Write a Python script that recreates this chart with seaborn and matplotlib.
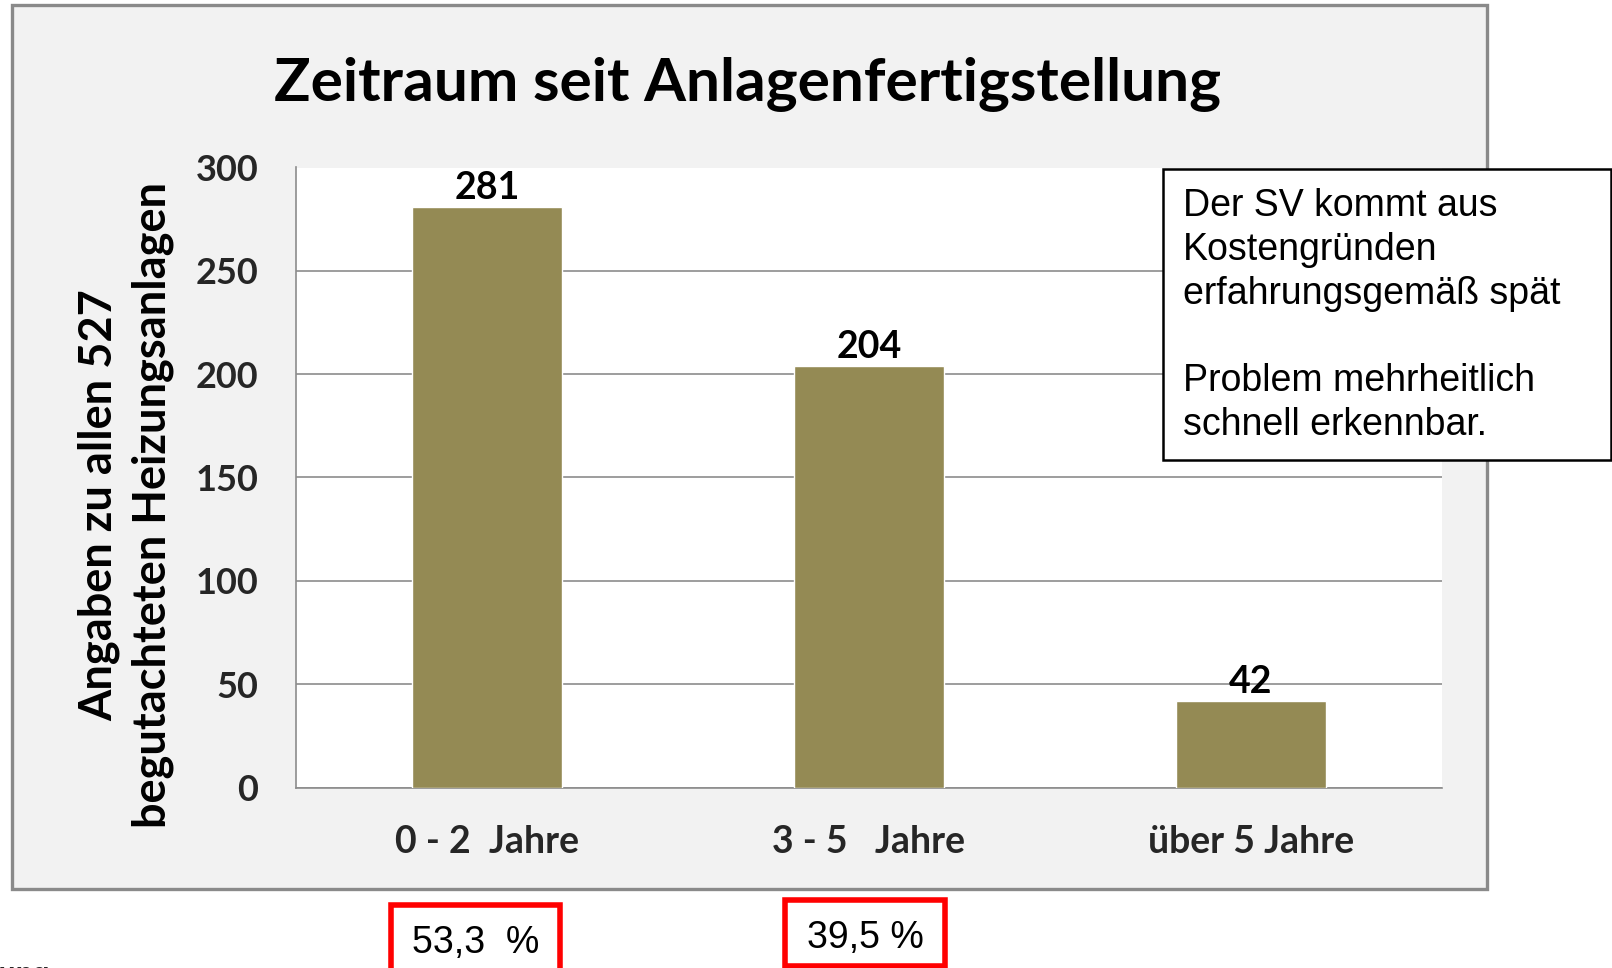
import matplotlib
matplotlib.use("Agg")
import matplotlib.pyplot as plt
from matplotlib.patches import Rectangle
import seaborn as sns
import pandas as pd

# Daten aus dem Diagramm
kategorien = ["0 - 2  Jahre", "3 - 5   Jahre", "über 5 Jahre"]
anzahl = [281, 204, 42]
prozent_labels = ["53,3  %", "39,5 %"]
titel = "Zeitraum seit Anlagenfertigstellung"
y_label = "Angaben zu allen 527\nbegutachteten Heizungsanlagen"
hinweis = "Der SV kommt aus\nKostengründen\nerfahrungsgemäß spät\n\nProblem mehrheitlich\nschnell erkennbar."
y_ticks = [0, 50, 100, 150, 200, 250, 300]

W, H = 1612, 968
BAR_COLOR = "#948A54"
FRAME_BG = "#F2F2F2"
FRAME_EDGE = "#8A8A8A"
GRID = "#8C8C8C"

sns.set_theme(style="white")
plt.rcParams["font.family"] = ["Lato", "DejaVu Sans"]


def px(x, y):
    # Pixelkoordinaten (von oben links) -> Figure-Koordinaten
    return x / W, 1 - y / H


fig = plt.figure(figsize=(W / 100, H / 100), dpi=100)
fig.patch.set_facecolor("white")

# grauer Diagrammrahmen
x0, y0 = px(12, 889)
fig.add_artist(Rectangle((x0, y0), (1487 - 12) / W, (889 - 5) / H,
                         transform=fig.transFigure, facecolor=FRAME_BG,
                         edgecolor=FRAME_EDGE, linewidth=2.4, zorder=0))

# Plotbereich
ax_l, ax_b = px(296, 787.5)
ax = fig.add_axes([ax_l, ax_b, (1442 - 296) / W, (787.5 - 167.5) / H])
ax.set_facecolor("white")

df = pd.DataFrame({"kategorie": kategorien, "anzahl": anzahl})
sns.barplot(data=df, x="kategorie", y="anzahl", color=BAR_COLOR,
            saturation=1, width=0.395, ax=ax, zorder=3)

ax.set_ylim(0, 300)
ax.set_xlim(-0.5, 2.5)
ax.set_yticks(y_ticks)
ax.yaxis.grid(True, color=GRID, linewidth=1.2, zorder=0)
ax.set_axisbelow(True)
for side in ["top", "right"]:
    ax.spines[side].set_visible(False)
for side in ["left", "bottom"]:
    ax.spines[side].set_color(GRID)
    ax.spines[side].set_linewidth(1.2)

ax.tick_params(axis="y", length=0, pad=27, labelsize=26)
ax.tick_params(axis="x", length=0, pad=27, labelsize=27)
for lab in ax.get_yticklabels() + ax.get_xticklabels():
    lab.set_fontweight("bold")
ax.set_xlabel("")
ax.set_ylabel("")

for i, v in enumerate(anzahl):
    ax.text(i, v + 1, str(v), ha="center", va="bottom",
            fontsize=27, fontweight="bold", color="black")

# Titel und Achsentitel
tx, ty = px(747, 84)
fig.text(tx, ty, titel, ha="center", va="center", fontsize=43.5,
         fontweight="bold", color="black")
lx, ly = px(126, 505)
fig.text(lx, ly, y_label, ha="center", va="center", rotation=90,
         fontsize=32.5, fontweight="bold", linespacing=1.33, color="black")

# Hinweiskasten
bx, by = px(1163, 460)
fig.add_artist(Rectangle((bx, by), (1611 - 1163) / W, (460 - 169) / H,
                         transform=fig.transFigure, facecolor="white",
                         edgecolor="black", linewidth=1.8, zorder=5))
hx, hy = px(1183, 188)
fig.text(hx, hy, hinweis, ha="left", va="top", fontsize=27,
         family=["Liberation Sans", "DejaVu Sans"], linespacing=1.28,
         color="black", zorder=6)

# Prozentkästen
kaesten = [(391, 905, 560, 975), (785, 900, 945, 966)]
for (xa, ya, xb, yb), txt in zip(kaesten, prozent_labels):
    rx, ry = px(xa, yb)
    fig.add_artist(Rectangle((rx, ry), (xb - xa) / W, (yb - ya) / H,
                             transform=fig.transFigure, facecolor="white",
                             edgecolor="#FF0000", linewidth=4, zorder=5))
    cx, cy = px((xa + xb) / 2, ya + 38)
    fig.text(cx, cy, txt, ha="center", va="center", fontsize=27,
             family=["Liberation Sans", "DejaVu Sans"], color="black", zorder=6)

# abgeschnittener Text unten links (auch im Original nur angeschnitten)
fx, fy = px(50, 962)
fig.text(fx, fy, "Bewertung", ha="right", va="top", fontsize=20,
         fontweight="bold", family=["Liberation Sans", "DejaVu Sans"])

fig.savefig("out.png", dpi=100, facecolor=fig.get_facecolor())
